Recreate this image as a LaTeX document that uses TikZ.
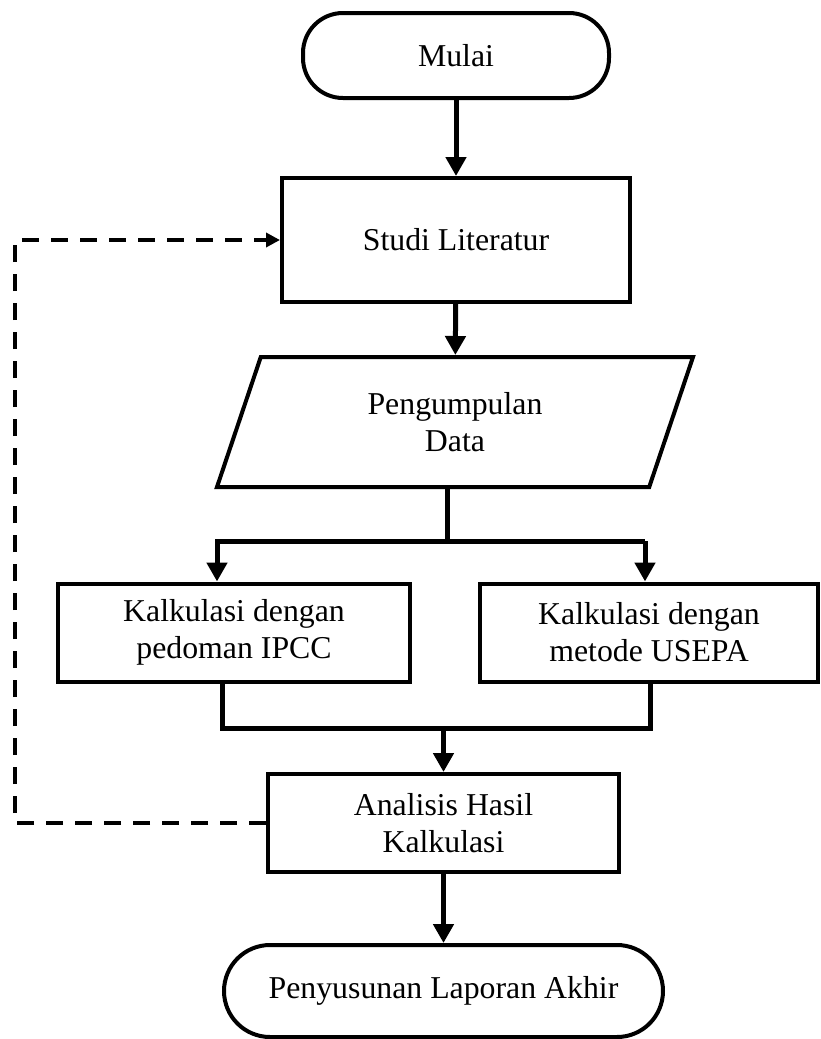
\documentclass[tikz,border=0pt]{standalone}
\usepackage{fontspec}
\setmainfont{Liberation Serif}
\usetikzlibrary{positioning, calc, shapes.geometric, arrows.meta}

\begin{document}
\begin{tikzpicture}[x=1pt, y=-1pt,
	every node/.style={font=\fontsize{31.8}{37}\selectfont, align=center, inner sep=0pt},
	box/.style={draw, line width=4pt, minimum width=#1, minimum height=98pt},
	terminal/.style={draw, line width=4pt, rounded corners=40pt},
	line/.style={line width=5pt},
	arr/.style={line, -{Triangle[width=20pt, length=19pt]}},
	back/.style={line width=4.5pt, dash pattern=on 17pt off 12pt, -{Triangle[width=14pt, length=14pt]}}]
			\useasboundingbox (0,0) rectangle (820,1039);
			\node (mulai) [terminal, minimum width=306pt, minimum height=85pt] at (456,55.5) {Mulai};
			\node (studi) [box=348pt, minimum height=124pt] at (456,240) {Studi Literatur};
			\node (data) [draw, line width=4pt, trapezium, trapezium left angle=53.6, trapezium right angle=126.4, trapezium stretches body, minimum width=476pt, minimum height=130pt] at (455,422) {Pengumpulan\\Data};
			\node (ipcc) [box=352pt] at (234,632.5) {Kalkulasi dengan\\pedoman IPCC};
			\node (usepa) [box=338pt] at (649,632.5) {Kalkulasi dengan\\metode USEPA};
			\node (analisis) [box=351pt] at (443.5,823) {Analisis Hasil\\Kalkulasi};
			\node (akhir) [terminal, minimum width=439pt, minimum height=92pt, rounded corners=46pt] at (443.5,991) {Penyusunan Laporan Akhir};
			
			\coordinate (sl) at (217,541);
			\coordinate (sr) at (645,541);
			\coordinate (ml) at (222,728);
			\coordinate (mr) at (650,728);
			\coordinate (loop) at (15,0);
			
			\draw [arr] (mulai) -- (studi);
			\draw [arr] (studi) -- (data);
			\draw [line] ([xshift=-8pt]data.south) -- ([xshift=-8pt]data.south |- sl);
			\draw [arr] (sr) -- (sl) -- (sl |- ipcc.north);
			\draw [arr] (sr) -- (sr |- usepa.north);
			\draw [line] (ml |- ipcc.south) -- (ml) -- (mr) -- (mr |- usepa.south);
			\draw [arr] (analisis.north |- ml) -- (analisis);
			\draw [arr] (analisis) -- (akhir);
			\draw [back] (analisis.west) -- (analisis.west -| loop) -- (loop |- studi.west) -- (studi.west);
		\end{tikzpicture}
\end{document}
